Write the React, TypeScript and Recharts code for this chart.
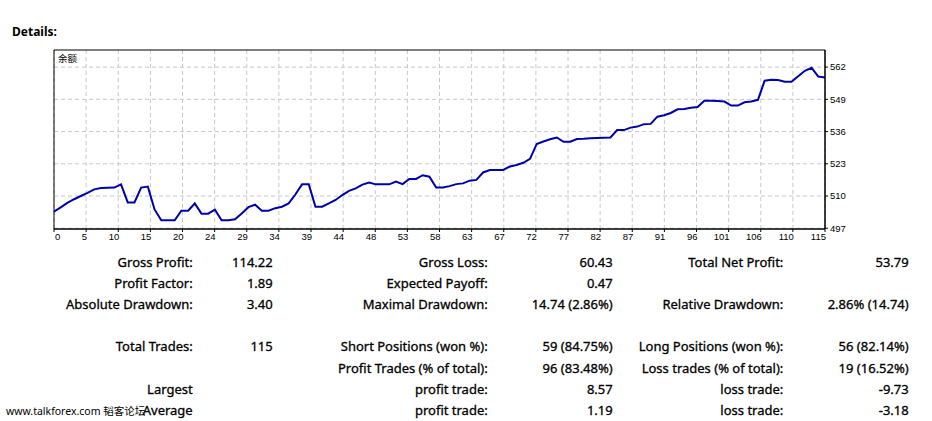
import React from "react";
import { LineChart, Line, XAxis, YAxis, CartesianGrid, ReferenceArea } from "recharts";

const balance = [
  503.7, 505.4, 507.2, 508.7, 510.0, 511.3, 512.7, 513.2, 513.3, 513.4,
  514.7, 507.4, 507.4, 513.4, 513.8, 504.6, 500.2, 500.2, 500.2, 504.1,
  504.1, 507.0, 502.9, 502.9, 504.5, 500.2, 500.2, 500.6, 503.0, 505.5,
  506.5, 504.1, 504.1, 505.1, 505.7, 507.0, 510.6, 514.7, 514.7, 505.7,
  505.7, 507.0, 508.4, 510.4, 512.1, 513.1, 514.6, 515.4, 514.7, 514.7,
  514.7, 515.8, 514.8, 516.9, 516.9, 518.4, 517.8, 513.4, 513.4, 514.0,
  514.8, 515.1, 516.2, 516.5, 519.5, 520.5, 520.5, 520.5, 521.9, 522.5,
  523.4, 525.0, 531.0, 532.0, 532.9, 533.6, 531.9, 531.9, 533.0, 533.1,
  533.3, 533.4, 533.5, 533.6, 536.6, 536.6, 537.6, 538.0, 539.0, 539.1,
  542.0, 542.6, 543.5, 545.0, 545.1, 545.6, 545.9, 548.4, 548.4, 548.3,
  548.1, 546.5, 546.5, 547.8, 548.1, 548.8, 556.5, 556.9, 556.8, 556.1,
  556.1, 558.3, 560.5, 561.7, 558.2, 557.8,
];

const xTickLabels = [
  "0", "5", "10", "15", "20", "24", "29", "34", "39", "44", "48", "53", "58",
  "63", "67", "72", "77", "82", "87", "91", "96", "101", "106", "110", "115",
];
const yTicks = [497, 510, 523, 536, 549, 562];
const yDomain: [number, number] = [496.7, 568.9];
const lastIndex = balance.length - 1;

const col1Labels = ["Gross Profit:", "Profit Factor:", "Absolute Drawdown:", "", "Total Trades:", "", "Largest", "Average"];
const col2Values = ["114.22", "1.89", "3.40", "", "115", "", "", ""];
const col3Labels = ["Gross Loss:", "Expected Payoff:", "Maximal Drawdown:", "", "Short Positions (won %):", "Profit Trades (% of total):", "profit trade:", "profit trade:"];
const col4Values = ["60.43", "0.47", "14.74 (2.86%)", "", "59 (84.75%)", "96 (83.48%)", "8.57", "1.19"];
const col5Labels = ["Total Net Profit:", "", "Relative Drawdown:", "", "Long Positions (won %):", "Loss trades (% of total):", "loss trade:", "loss trade:"];
const col6Values = ["53.79", "", "2.86% (14.74)", "", "56 (82.14%)", "19 (16.52%)", "-9.73", "-3.18"];

const data = balance.map((v, i) => ({ i, v }));
const xTicks = xTickLabels.map((_, k) => (k * lastIndex) / (xTickLabels.length - 1));

const tickFont = "'Liberation Sans', Arial, sans-serif";

function XTick(props: any) {
  const { x, y, payload } = props;
  const k = Math.round((payload.value * (xTickLabels.length - 1)) / lastIndex);
  const first = k === 0;
  return (
    <text
      x={x + 1}
      y={y}
      dy="0.71em"
      textAnchor={first ? "start" : "end"}
      fontSize={9.5}
      fontFamily={tickFont}
      fill="#000"
    >
      {xTickLabels[k]}
    </text>
  );
}

const colEdges = [192.7, 272.7, 487.7, 612.7, 783.3, 908.7];
const columns = [col1Labels, col2Values, col3Labels, col4Values, col5Labels, col6Values];

export default function App() {
  return (
    <div
      style={{
        position: "absolute",
        left: 0,
        top: 0,
        width: 932,
        height: 421,
        background: "#fff",
        fontFamily: "'Noto Sans', sans-serif",
        color: "#000",
        overflow: "hidden",
      }}
    >
      <div
        style={{
          position: "absolute",
          left: 12,
          top: 23,
          fontSize: 12,
          fontWeight: "bold",
          lineHeight: "18px",
        }}
      >
        Details:
      </div>
      <div style={{ position: "absolute", left: 0, top: 0 }}>
        <LineChart
          width={932}
          height={260}
          data={data}
          margin={{ top: 50, right: 67, bottom: 11, left: 54 }}
        >
          <CartesianGrid
            stroke="#c8c8c8"
            strokeDasharray="4 3"
            horizontalValues={yTicks}
            verticalValues={xTicks}
          />
          <XAxis
            dataKey="i"
            type="number"
            domain={[0, lastIndex]}
            ticks={xTicks}
            interval={0}
            height={20}
            tickSize={3}
            tickMargin={1}
            tick={<XTick />}
            axisLine={{ stroke: "#000" }}
            tickLine={{ stroke: "#000" }}
            allowDecimals
          />
          <YAxis
            orientation="right"
            type="number"
            domain={yDomain}
            ticks={yTicks}
            interval={0}
            width={40}
            tickSize={3}
            tickMargin={2}
            axisLine={{ stroke: "#000" }}
            tickLine={{ stroke: "#000" }}
            tick={{ fontSize: 9.5, fontFamily: tickFont, fill: "#000" }}
          />
          <ReferenceArea
            x1={0}
            x2={lastIndex}
            y1={yDomain[0]}
            y2={yDomain[1]}
            stroke="#000"
            strokeWidth={1}
            fill="none"
            fillOpacity={0}
            ifOverflow="visible"
          />
          <Line
            type="linear"
            dataKey="v"
            stroke="#0000aa"
            strokeWidth={2}
            dot={false}
            isAnimationActive={false}
          />
        </LineChart>
      </div>
      <div
        style={{
          position: "absolute",
          left: 58,
          top: 52,
          fontSize: 9.5,
          lineHeight: "12px",
          fontFamily: "'Noto Sans CJK SC', sans-serif",
        }}
      >
        余额
      </div>
      {columns.map((col, c) =>
        col.map((txt, r) =>
          txt ? (
            <div
              key={c + "-" + r}
              style={{
                position: "absolute",
                right: 932 - colEdges[c],
                top: 251.5 + r * 21.2,
                fontSize: 13,
                lineHeight: "21px",
                whiteSpace: "nowrap",
                textAlign: "right",
                WebkitTextStroke: "0.3px #000",
              }}
            >
              {txt}
            </div>
          ) : null
        )
      )}
      <div
        style={{
          position: "absolute",
          left: 6,
          top: 251.5 + 7 * 21.2 + 1,
          fontSize: 10.5,
          lineHeight: "21px",
          whiteSpace: "nowrap",
          fontFamily: "'Noto Sans', 'Noto Sans CJK SC', sans-serif",
        }}
      >
        www.talkforex.com 韬客论坛
      </div>
    </div>
  );
}
